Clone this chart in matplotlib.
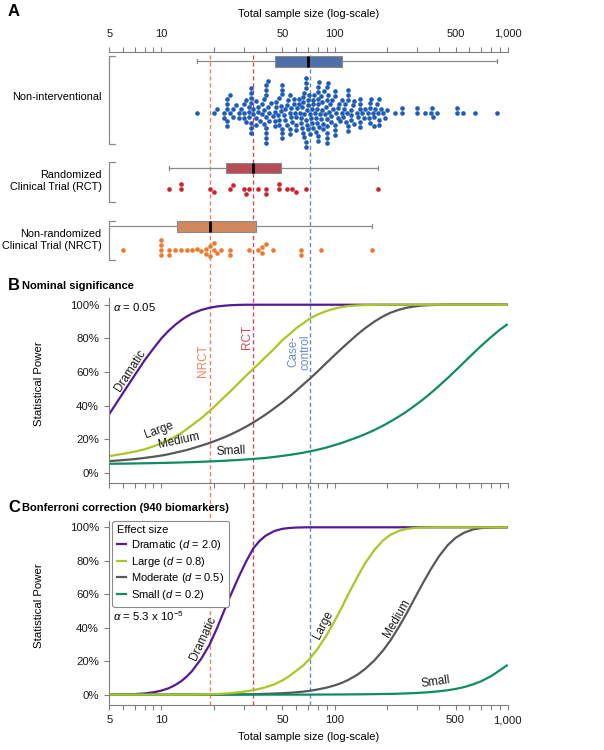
import numpy as np
import matplotlib
matplotlib.use('Agg')
import matplotlib.pyplot as plt
import matplotlib.ticker as ticker
import matplotlib.transforms as mtransforms
from matplotlib.lines import Line2D

plt.rcParams.update({
    'font.family': ['Liberation Sans', 'DejaVu Sans'],
    'font.size': 8,
    'mathtext.fontset': 'custom',
    'mathtext.rm': 'Liberation Sans',
    'mathtext.it': 'Liberation Sans:italic',
    'axes.edgecolor': '#7f7f7f',
    'axes.linewidth': 0.8,
    'xtick.color': '#7f7f7f',
    'ytick.color': '#7f7f7f',
    'xtick.labelcolor': '#1a1a1a',
    'ytick.labelcolor': '#1a1a1a',
    'xtick.major.size': 3.5,
    'ytick.major.size': 3.5,
    'xtick.major.width': 0.8,
    'ytick.major.width': 0.8,
})

# ---- panel A: sample sizes of the studies ----
nonint_n = [
    16, 20, 21,
    23, 23, 24, 24, 24, 24, 24, 25, 25, 26, 26,
    27, 28, 28, 29, 30, 30, 30, 31,
    31, 32, 32, 32, 33, 33, 33, 33, 33, 33, 33, 34, 34, 35, 35, 35,
    36, 36, 37, 38, 38, 39, 39, 39, 40, 40, 40, 40, 40, 40, 40, 40, 41, 41,
    42, 42, 43, 44, 45, 45, 45, 46, 46, 47, 48, 48, 48, 49, 49, 50, 50, 50, 50, 50, 50, 51,
    52, 52, 53, 53, 54, 55, 55, 55, 55, 56, 56, 57,
    58, 58, 59, 60, 60, 60, 61, 62, 62, 63, 64, 64, 65, 65, 66, 66, 66, 67, 67, 67,
    68, 68, 68, 68, 68, 68, 69, 69,
    70, 70, 70, 71, 72, 72, 73, 74, 74, 75, 75, 75, 76, 77, 78, 78, 79, 79,
    80, 80, 80, 80, 80, 80, 81, 81, 82,
    83, 84, 85, 85, 86, 86, 87, 88, 89, 90, 90, 90, 90, 90, 90, 91, 92, 92, 93, 94, 95, 96,
    97, 98,
    100, 100, 100, 100, 100, 102, 104, 105, 106, 108, 110, 110, 112, 114, 115, 116, 118,
    120, 120, 120, 120, 120,
    124, 125, 125, 128, 130, 130, 134, 137,
    140, 140, 140, 140, 140, 145, 148, 150,
    155, 158, 160, 160, 160, 163, 166, 168, 170, 172, 175, 178, 180, 180, 180, 185,
    190, 195, 200,
    224, 244, 244,
    298, 298,
    333, 360, 365, 372, 389,
    508, 508, 555,
    648, 865,
]
rct_n = [11, 13, 13, 19, 20, 25, 26, 30, 31, 32, 36, 40, 40, 48, 48, 53, 57, 60, 68, 179]
nrct_n = [4, 6, 10, 10, 10, 10, 11, 11, 12, 13, 14, 15, 16, 17, 18, 18, 19, 19, 20, 20,
          21, 22, 25, 25, 32, 36, 38, 38, 40, 44, 64, 64, 83, 165]
group_names = ['Non-interventional', 'Randomized\nClinical Trial (RCT)',
               'Non-randomized\nClinical Trial (NRCT)']

# median sample size per design (dashed lines)
ref_names = ['NRCT', 'RCT', 'Case-\ncontrol']
ref_n = [19, 34, 72]

# ---- panels B/C: power (%) read along the total sample size ----
n_grid = [5, 6, 7, 8, 9, 10, 11, 12, 13, 14, 15, 17, 19, 21, 23, 25, 28, 31, 34, 37, 40,
          45, 50, 55, 60, 66, 72, 80, 90, 100, 110, 120, 135, 150, 170, 190, 210, 235, 260,
          290, 320, 360, 400, 450, 500, 560, 630, 700, 800, 900, 1000]

nom_dramatic = [35, 47.5, 58, 67, 74, 80, 84.5, 88, 90.8, 93, 94.7, 96.9, 98.2, 99, 99.4,
                99.7, 99.9, 100, 100, 100, 100, 100, 100, 100, 100, 100, 100, 100, 100, 100,
                100, 100, 100, 100, 100, 100, 100, 100, 100, 100, 100, 100, 100, 100, 100,
                100, 100, 100, 100, 100, 100]
nom_large = [10, 11.3, 12.6, 14, 15.8, 17.5, 19.5, 21.5, 23.7, 26, 28.3, 32.5, 36.8, 41, 45,
             48.5, 53.5, 58, 62, 65.5, 69, 74, 79, 82.5, 86, 89, 91.8, 94.2, 96.3, 97.7,
             98.6, 99.2, 99.6, 99.8, 99.95, 100, 100, 100, 100, 100, 100, 100, 100, 100,
             100, 100, 100, 100, 100, 100, 100]
nom_medium = [7, 7.6, 8.2, 8.9, 9.6, 10.3, 11.1, 12, 12.8, 13.6, 14.5, 16.2, 17.8, 19.5,
              21.1, 22.7, 25.2, 27.6, 30, 32.4, 34.7, 38.5, 42, 45.5, 48.8, 52.6, 56, 60.4,
              65.5, 70, 74, 77.5, 82.2, 86, 90, 93, 95.2, 97, 98.2, 99, 99.5, 99.8, 99.9,
              100, 100, 100, 100, 100, 100, 100, 100]
nom_small = [5.4, 5.5, 5.6, 5.7, 5.8, 5.9, 6.0, 6.1, 6.2, 6.3, 6.4, 6.6, 6.8, 7.0, 7.2, 7.4,
             7.7, 8.0, 8.3, 8.6, 8.9, 9.5, 10.1, 10.7, 11.3, 12.0, 12.8, 13.8, 15.1, 16.5,
             17.8, 19.2, 21.1, 23, 25.5, 28, 30.5, 33.5, 36.4, 39.9, 43.2, 47.5, 51.6, 56.4,
             60.9, 65.8, 70.9, 75.4, 80.7, 85.1, 88.5]

bon_dramatic = [0.05, 0.12, 0.3, 0.7, 1.4, 2.4, 3.8, 5.7, 8, 10.8, 14, 21.5, 30, 40, 50,
                59, 70.5, 80, 87.5, 92, 95, 97.8, 99.1, 99.6, 99.85, 99.95, 100, 100, 100,
                100, 100, 100, 100, 100, 100, 100, 100, 100, 100, 100, 100, 100, 100, 100,
                100, 100, 100, 100, 100, 100, 100]
bon_large = [0, 0, 0, 0, 0, 0, 0, 0, 0, 0, 0, 0.1, 0.2, 0.4, 0.6, 0.9, 1.4, 2.0, 2.7, 3.5,
             4.4, 6.2, 8.5, 11.2, 14.2, 17.5, 21.5, 27.5, 35.5, 44, 52, 60, 70, 78.5, 86.5,
             92, 95.5, 97.8, 99, 99.6, 99.85, 99.95, 100, 100, 100, 100, 100, 100, 100, 100,
             100]
bon_medium = [0, 0, 0, 0, 0, 0, 0, 0, 0, 0, 0, 0, 0, 0, 0, 0.1, 0.14, 0.2, 0.27, 0.35, 0.48,
              0.65, 0.85, 1.1, 1.4, 1.8, 2.3, 3.1, 4.2, 5.5, 7, 8.8, 11.8, 15.3, 20.5, 26.2,
              32.3, 40.4, 48.3, 57.5, 65.7, 75, 82.5, 89.3, 93.7, 96.8, 98.7, 99.5, 99.88,
              99.98, 100]
bon_small = [0, 0, 0, 0, 0, 0, 0, 0, 0, 0, 0, 0, 0, 0, 0, 0, 0, 0, 0, 0, 0, 0, 0, 0, 0, 0,
             0, 0.04, 0.06, 0.08, 0.1, 0.13, 0.17, 0.22, 0.29, 0.37, 0.43, 0.56, 0.72, 0.93,
             1.17, 1.55, 2.0, 2.6, 3.4, 4.5, 6.1, 7.9, 11, 14.5, 17.8]

effect_names = ['Dramatic', 'Large', 'Moderate', 'Small']
effect_d = ['2.0', '0.8', '0.5', '0.2']

# ---- styles ----
C_DRAM = '#561a96'
C_LARGE = '#a9c726'
C_MED = '#58585a'
C_SMALL = '#0f8c66'
REF_COLORS = ['#e9855a', '#d64a58', '#6a8ccb']
BOX_COLORS = ['#4e6fa8', '#b84b55', '#d3875d']
DOT_COLORS = ['#1f5bb7', '#cf202d', '#ec7a2e']
GREY = '#8a8a8a'

W, H = 604, 750


def frame(left, top, right, bottom):
    return [left / W, 1 - bottom / H, (right - left) / W, (bottom - top) / H]


def beeswarm(xpix, d):
    # place points in value order, each as close to the centre line as it fits,
    # ties go to whichever side has fewer points so far
    order = np.argsort(xpix, kind='stable')
    ys = np.zeros(len(xpix))
    placed = []
    n_up, n_down = 0, 0
    for i in order:
        x = xpix[i]
        near = [(px, py) for px, py in placed if abs(px - x) < d]
        cands = [0.0]
        for px, py in near:
            dy = np.sqrt(d ** 2 - (px - x) ** 2)
            cands += [py + dy, py - dy]
        sgn = 1 if n_down < n_up else -1
        cands.sort(key=lambda c: (round(abs(c), 4), -sgn * c))
        for c in cands:
            if all((px - x) ** 2 + (py - c) ** 2 >= d ** 2 - 1e-6 for px, py in near):
                ys[i] = c
                break
        if ys[i] < 0:
            n_up += 1
        elif ys[i] > 0:
            n_down += 1
        placed.append((x, ys[i]))
    return ys


fig = plt.figure(figsize=(W / 100, H / 100), dpi=100)
axA = fig.add_axes(frame(109.3, 51.7, 507.7, 262))
axB = fig.add_axes(frame(109.3, 298, 507.7, 483.3))
axC = fig.add_axes(frame(109.3, 520.6, 507.7, 705))

ticks = [m * 10 ** e for e in range(0, 4) for m in range(1, 10)]
ticks = [t for t in ticks if 5 <= t <= 1000]
labelled = {5, 10, 50, 100, 500, 1000}
fmt = ticker.FuncFormatter(lambda v, p: f'{int(round(v)):,}' if int(round(v)) in labelled else '')

for ax in (axA, axB, axC):
    ax.set_xscale('log')
    ax.set_xlim(5, 1000)
    ax.xaxis.set_major_locator(ticker.FixedLocator(ticks))
    ax.xaxis.set_minor_locator(ticker.NullLocator())
    ax.xaxis.set_major_formatter(fmt)
    ax.patch.set_alpha(0)

# ---------------- panel A ----------------
axA.set_ylim(262, 51.7)
for s in ('left', 'right', 'bottom'):
    axA.spines[s].set_visible(False)
axA.set_yticks([])
axA.xaxis.tick_top()
axA.xaxis.set_label_position('top')
axA.tick_params(axis='x', pad=6, labelsize=8)
axA.set_xlabel('Total sample size (log-scale)', labelpad=8, fontsize=8)

box_y = [61.3, 168, 226.3]
swarm_y = [112.7, 189.3, 250]
brackets = [(56, 144), (162.3, 201.7), (221, 260)]
label_y = [97.3, 181, 240]

groups = [nonint_n, rct_n, nrct_n]
bp = axA.boxplot(groups, positions=box_y, orientation='horizontal', widths=10.7,
                 whis=(0, 100), patch_artist=True, showfliers=False, manage_ticks=False,
                 capwidths=4,
                 medianprops=dict(color='black', linewidth=2),
                 boxprops=dict(edgecolor=GREY, linewidth=0.8),
                 whiskerprops=dict(color=GREY, linewidth=0.9),
                 capprops=dict(color=GREY, linewidth=0.9))
for patch, c in zip(bp['boxes'], BOX_COLORS):
    patch.set_facecolor(c)

for vals, y0, c in zip(groups, swarm_y, DOT_COLORS):
    vals = np.asarray(vals, dtype=float)
    shown = vals[vals >= 5]
    xpix = axA.transData.transform(np.c_[shown, np.full(len(shown), y0)])[:, 0]
    offs = beeswarm(xpix, 4.9)
    axA.scatter(shown, y0 + offs, s=11, color=c, linewidths=0, zorder=3)

trA = mtransforms.blended_transform_factory(axA.transAxes, axA.transData)
for (top, bot), ly, name in zip(brackets, label_y, group_names):
    axA.plot([0.014, 0, 0, 0.014], [top, top, bot, bot], transform=trA,
             color=GREY, lw=0.9, clip_on=False)
    axA.text(-0.019, ly, name, transform=trA, ha='right', va='center',
             fontsize=7.8, linespacing=1.3)

# reference lines running through all three panels
trRef = mtransforms.blended_transform_factory(axC.transData, fig.transFigure)
for n, c in zip(ref_n, REF_COLORS):
    fig.add_artist(Line2D([n, n], [1 - 705 / H, 1 - 51.7 / H], transform=trRef,
                          color=c, lw=1, ls=(0, (3, 2)), zorder=-1))

# ---------------- panels B and C ----------------
pct = ticker.FuncFormatter(lambda v, p: f'{int(v)}%')
curve_colors = [C_DRAM, C_LARGE, C_MED, C_SMALL]
draw_order = [0, 2, 3, 1]

for ax, series in ((axB, [nom_dramatic, nom_large, nom_medium, nom_small]),
                   (axC, [bon_dramatic, bon_large, bon_medium, bon_small])):
    for k in draw_order:
        ax.plot(n_grid, series[k], color=curve_colors[k], lw=1.6, solid_capstyle='butt')
    ax.set_ylim(-6.2, 104)
    ax.set_yticks([0, 20, 40, 60, 80, 100])
    ax.yaxis.set_major_formatter(pct)
    ax.spines['top'].set_visible(False)
    ax.spines['right'].set_visible(False)
    ax.tick_params(axis='y', pad=4, labelsize=8.2)
    ax.tick_params(axis='x', pad=4, labelsize=8.2)
    ax.set_ylabel('Statistical Power', fontsize=8.2)
    ax.yaxis.set_label_coords(-0.163, 0.54)
    ax.yaxis.label.set_va('bottom')

axB.tick_params(axis='x', labelbottom=False)
axC.set_xlabel('Total sample size (log-scale)', fontsize=8, labelpad=5)

# curve labels, panel B
for txt, x, y, rot in [('Dramatic', 6.59, 61, 57), ('Large', 9.72, 25.4, 20),
                       ('Medium', 12.7, 19, 12), ('Small', 25.1, 12.9, 3)]:
    axB.text(x, y, txt, rotation=rot, rotation_mode='anchor', ha='center', va='center',
             fontsize=8.5, color='#1a1a1a')
for txt, x, y, c in zip(ref_names, [17.5, 31.3, 62.5], [67, 81, 72], REF_COLORS):
    axB.text(x, y, txt, rotation=90, ha='center', va='center', fontsize=8.5, color=c,
             linespacing=1.0)
axB.text(5.27, 98.5, r'$\it{\alpha}$ = 0.05', ha='left', va='center', fontsize=8.2)

# curve labels, panel C
for txt, x, y, rot in [('Dramatic', 17.5, 33.8, 65), ('Large', 86.2, 41.7, 63),
                       ('Medium', 228.6, 45.7, 60), ('Small', 385.6, 7.6, 8)]:
    axC.text(x, y, txt, rotation=rot, rotation_mode='anchor', ha='center', va='center',
             fontsize=8.5, color='#1a1a1a')
axC.text(5.27, 46.7, r'$\it{\alpha}$ = 5.3 x 10$^{-5}$', ha='left', va='center',
         fontsize=8.2)

leg_handles = [Line2D([], [], color=c, lw=1.6) for c in curve_colors]
leg_labels = [f'{nm} ($\\it{{d}}$ = {d})' for nm, d in zip(effect_names, effect_d)]
leg = axC.legend(leg_handles, leg_labels, title='Effect size', loc='upper left',
                 bbox_to_anchor=(0.008, 1.0), borderaxespad=0, fontsize=8,
                 title_fontsize=8, alignment='left', handlelength=0.8,
                 handletextpad=0.5, labelspacing=0.25, borderpad=0.4,
                 frameon=True, fancybox=True, framealpha=1, edgecolor=GREY)
leg.get_frame().set_linewidth(0.8)
leg.set_zorder(5)

# panel letters and titles
fig.text(8 / W, 1 - 12 / H, 'A', fontsize=12, fontweight='bold', va='center', ha='left')
fig.text(8 / W, 1 - 286 / H, 'B', fontsize=12, fontweight='bold', va='center', ha='left')
fig.text(22 / W, 1 - 286 / H, 'Nominal significance', fontsize=8, fontweight='bold',
         va='center', ha='left')
fig.text(8 / W, 1 - 508 / H, 'C', fontsize=12, fontweight='bold', va='center', ha='left')
fig.text(22 / W, 1 - 508 / H, 'Bonferroni correction (940 biomarkers)', fontsize=8,
         fontweight='bold', va='center', ha='left')

fig.savefig('out.png', dpi=100, facecolor='white')
